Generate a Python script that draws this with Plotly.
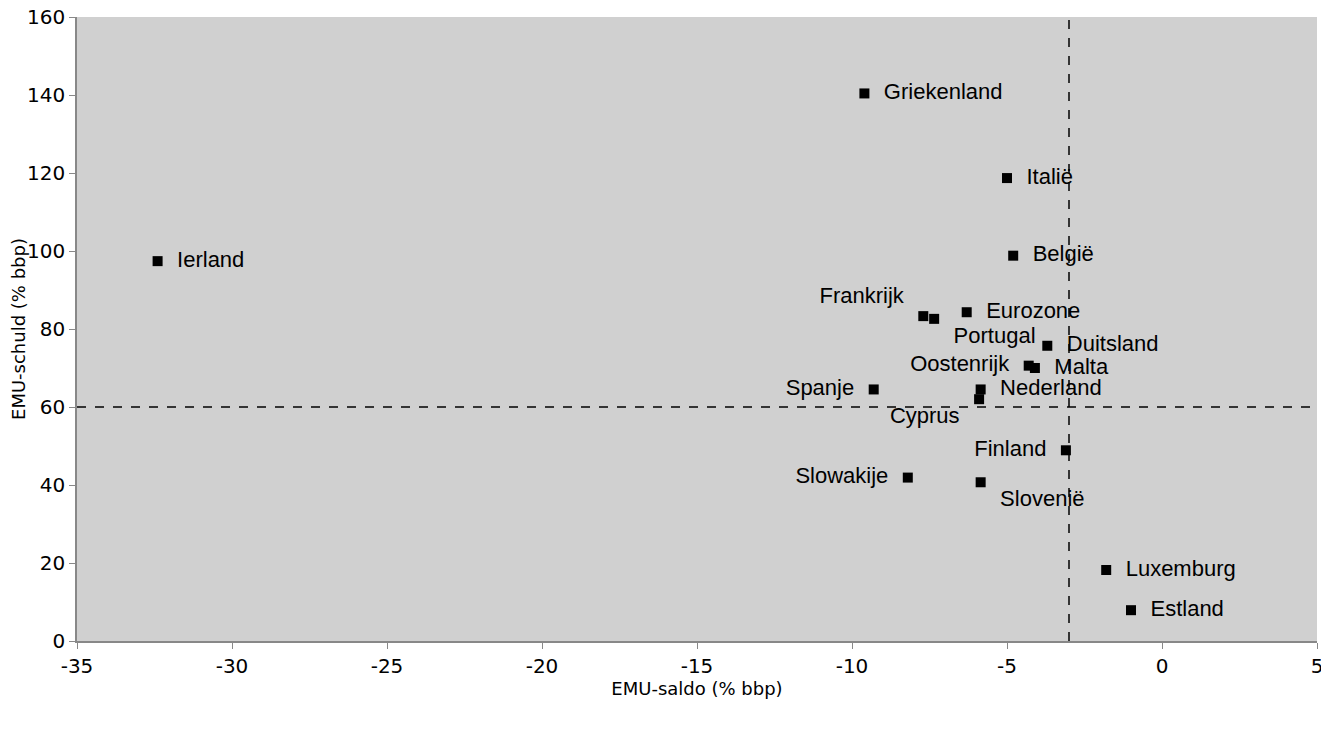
import plotly.graph_objects as go

landen = ["Ierland", "Griekenland", "Italië", "België", "Frankrijk", "Portugal",
          "Eurozone", "Duitsland", "Oostenrijk", "Malta", "Nederland", "Cyprus",
          "Spanje", "Finland", "Slowakije", "Slovenië", "Luxemburg", "Estland"]
saldo = [-32.4, -9.6, -5.0, -4.8, -7.7, -7.35, -6.3, -3.7, -4.3, -4.1, -5.85, -5.9,
         -9.3, -3.1, -8.2, -5.85, -1.8, -1.0]
schuld = [97.4, 140.4, 118.7, 98.8, 83.3, 82.6, 84.3, 75.7, 70.6, 70.0, 64.5, 62.0,
          64.5, 48.9, 41.9, 40.7, 18.2, 7.9]
posities = ["middle right", "middle right", "middle right", "middle right", "top left",
            "bottom right", "middle right", "middle right", "middle left", "middle right",
            "middle right", "bottom left", "middle left", "middle left", "middle left",
            "bottom right", "middle right", "middle right"]

x_ticks = [-35, -30, -25, -20, -15, -10, -5, 0, 5]
x_labels = ["-35", "-30", "-25", "-20", "-15", "-10", "-5", "0", "5"]
y_ticks = [0, 20, 40, 60, 80, 100, 120, 140, 160]

# een beetje ruimte tussen blokje en naam
nbsp = "\u00a0\u00a0"
teksten = []
for naam, pos in zip(landen, posities):
    if pos.endswith("right"):
        teksten.append(nbsp + naam)
    elif pos.endswith("left"):
        teksten.append(naam + nbsp)
    else:
        teksten.append(naam)

fig = go.Figure()
fig.add_trace(go.Scatter(
    x=saldo, y=schuld, mode="markers+text", text=teksten, textposition=posities,
    marker=dict(symbol="square", size=10, color="black"),
    textfont=dict(family="Liberation Sans", size=22, color="black"),
    cliponaxis=False, showlegend=False,
))

fig.add_shape(type="line", x0=-3, x1=-3, y0=0, y1=160, xref="x", yref="y",
              line=dict(color="black", width=1.5, dash="dash"))
fig.add_shape(type="line", x0=-35, x1=5, y0=60, y1=60, xref="x", yref="y",
              line=dict(color="black", width=1.5, dash="dash"))

# de pagina zet de figuur 8px naar rechts/onder, dus iets kleiner maken
fig.update_layout(
    width=1321, height=723,
    margin=dict(l=69, r=12, t=9, b=90, autoexpand=False),
    paper_bgcolor="white", plot_bgcolor="#d0d0d0",
    font=dict(family="DejaVu Sans", color="black"),
)
fig.update_xaxes(range=[-35, 5], tickvals=x_ticks, ticktext=x_labels, showgrid=False,
                 zeroline=False, automargin=False, ticklabeloverflow="allow",
                 showline=True, linecolor="#888", linewidth=1.5,
                 ticks="outside", ticklen=6, tickcolor="#888",
                 tickfont=dict(size=20, family="DejaVu Sans"),
                 title=dict(text="EMU-saldo (% bbp)", font=dict(size=18), standoff=6))
fig.update_yaxes(range=[0, 160], tickvals=y_ticks, showgrid=False, zeroline=False,
                 automargin=False, ticklabeloverflow="allow",
                 showline=True, linecolor="#888", linewidth=1.5,
                 ticks="outside", ticklen=6, tickcolor="#888",
                 tickfont=dict(size=20, family="DejaVu Sans"),
                 title=dict(text="EMU-schuld (% bbp)", font=dict(size=18), standoff=3))

fig.write_html("out.html")
